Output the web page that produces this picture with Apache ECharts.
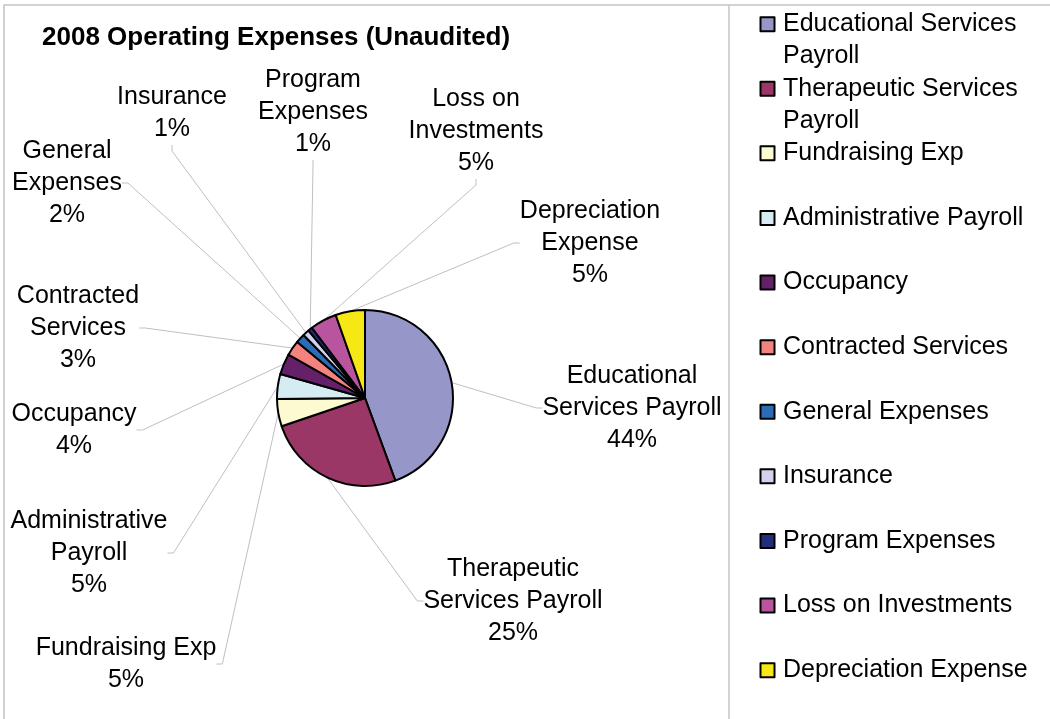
<!DOCTYPE html>
<html>
<head>
<meta charset="utf-8">
<script src="https://cdn.jsdelivr.net/npm/echarts@6/dist/echarts.min.js"></script>
<style>
  html, body { margin: 0; padding: 0; background: #fff; }
  #chart { width: 1050px; height: 719px; }
</style>
</head>
<body>
<div id="chart"></div>
<script>
// categories in drawing order (clockwise from 12 o'clock)
const categories = [
  'Educational Services Payroll',
  'Therapeutic Services Payroll',
  'Fundraising Exp',
  'Administrative Payroll',
  'Occupancy',
  'Contracted Services',
  'General Expenses',
  'Insurance',
  'Program Expenses',
  'Loss on Investments',
  'Depreciation Expense',
]
// share of total, percent
const values = [44.4, 25.4, 5.0, 4.6, 3.8, 2.8, 1.7, 1.2, 0.8, 4.9, 5.4]
const colors = [
  '#9696c8', '#9a3766', '#fdfad2', '#d4ecf2', '#65206a', '#f4827e',
  '#2b6cb5', '#d2d2ea', '#232d7c', '#b8559e', '#f6e815',
]
// wrapped text as shown beside the pie
const labelNames = [
  'Educational\nServices Payroll',
  'Therapeutic\nServices Payroll',
  'Fundraising Exp',
  'Administrative\nPayroll',
  'Occupancy',
  'Contracted\nServices',
  'General\nExpenses',
  'Insurance',
  'Program\nExpenses',
  'Loss on\nInvestments',
  'Depreciation\nExpense',
]
// wrapped text as shown in the legend
const legendNames = [
  'Educational Services\nPayroll',
  'Therapeutic Services\nPayroll',
  'Fundraising Exp',
  'Administrative Payroll',
  'Occupancy',
  'Contracted Services',
  'General Expenses',
  'Insurance',
  'Program Expenses',
  'Loss on Investments',
  'Depreciation Expense',
]

// label block centres (layout only)
const labelPos = [
  [632, 408], [513, 601], [126, 664], [89, 553], [74, 430], [78, 328],
  [67, 183], [172, 113], [313, 112], [476, 131], [590, 243],
]

const FONT = "'Liberation Sans', Arial, sans-serif"
const LINE_H = 32
const LEGEND_LINE_H = 32.3
const ICON_BOX_H = 60

// every legend entry takes two text lines; the square sits on the first one
const ICON = (() => {
  const c = ICON_BOX_H / 2 - LEGEND_LINE_H / 2
  const t = c - 7, b = c + 7
  return `path://M0,0 M15,${ICON_BOX_H} M0.5,${t} L14.5,${t} L14.5,${b} L0.5,${b} Z`
})()

const chart = echarts.init(document.getElementById('chart'))

const option = {
  animation: false,
  backgroundColor: '#fff',
  color: colors,
  title: {
    text: '2008 Operating Expenses (Unaudited)',
    left: 42,
    top: 23,
    padding: 0,
    textStyle: {
      fontFamily: FONT,
      fontSize: 26,
      fontWeight: 'bold',
      color: '#000',
      lineHeight: 30,
    },
  },
  legend: {
    orient: 'vertical',
    left: 759,
    top: 8,
    padding: 0,
    itemGap: 0,
    itemWidth: 15,
    itemHeight: ICON_BOX_H,
    selectedMode: false,
    itemStyle: { borderColor: '#000', borderWidth: 2 },
    data: categories.map((c) => ({ name: c, icon: ICON })),
    formatter: (name) => {
      const t = legendNames[categories.indexOf(name)]
      return t.indexOf('\n') >= 0 ? t : t + '\n '
    },
    textStyle: {
      fontFamily: FONT,
      fontSize: 25,
      lineHeight: LEGEND_LINE_H,
      color: '#000',
      padding: [0, 0, 0, 3],
    },
  },
  graphic: [
    {
      type: 'rect',
      silent: true,
      shape: { x: 4, y: 5, width: 1200, height: 900 },
      style: { fill: null, stroke: '#c4c4c4', lineWidth: 1.5 },
    },
    {
      type: 'line',
      silent: true,
      shape: { x1: 729, y1: 5, x2: 729, y2: 719 },
      style: { stroke: '#c4c4c4', lineWidth: 1.5 },
    },
  ],
  series: [
    {
      type: 'pie',
      center: [365, 398],
      radius: 88,
      startAngle: 90,
      clockwise: true,
      avoidLabelOverlap: false,
      itemStyle: { borderColor: '#000', borderWidth: 2 },
      emphasis: { disabled: true },
      data: categories.map((c, i) => ({ name: c, value: values[i] })),
      label: {
        show: true,
        position: 'outside',
        fontFamily: FONT,
        fontSize: 25,
        lineHeight: LINE_H,
        color: '#000',
        align: 'center',
        formatter: (p) => labelNames[p.dataIndex] + '\n' + Math.round(p.percent) + '%',
      },
      labelLine: {
        show: true,
        length: 10,
        length2: 6,
        lineStyle: { color: '#c0c0c0', width: 1 },
      },
      labelLayout: (params) => {
        const p = labelPos[params.dataIndex]
        return { x: p[0], y: p[1], align: 'center', verticalAlign: 'middle' }
      },
    },
  ],
}

chart.setOption(option)
</script>
</body>
</html>
